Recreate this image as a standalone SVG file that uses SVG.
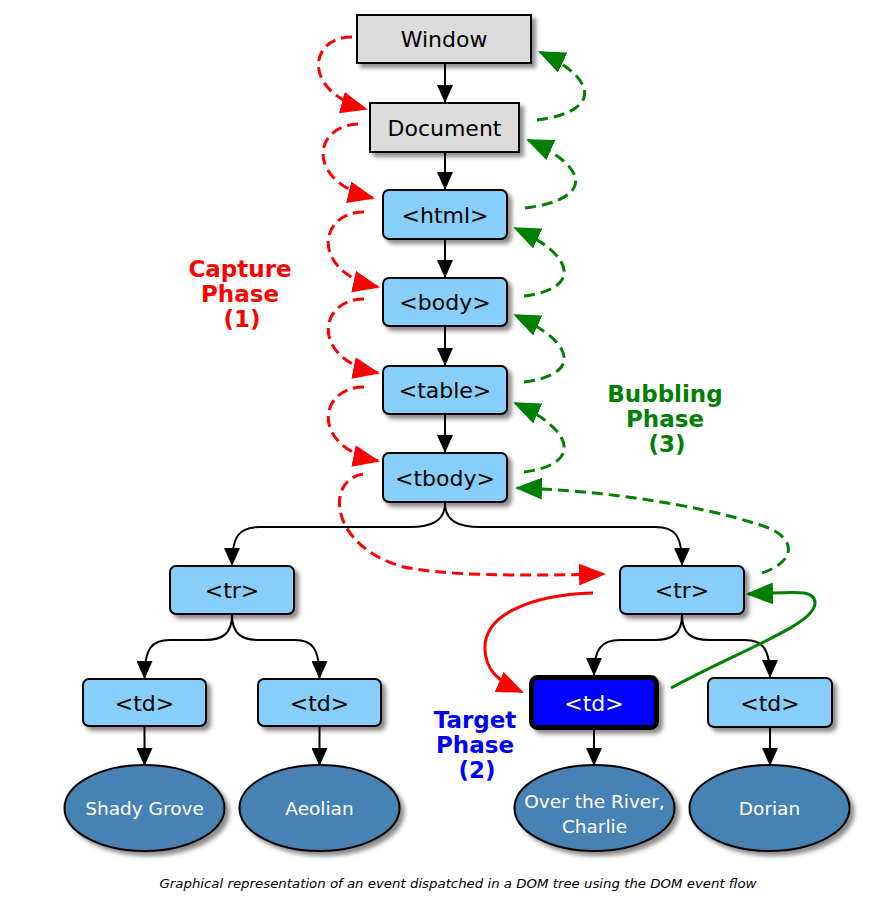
<svg xmlns="http://www.w3.org/2000/svg" width="876" height="912" viewBox="0 0 876 912">
<style>
  .gray{fill:#dcdcdc;stroke:#000;stroke-width:2}
  .node{fill:#87cefa;stroke:#000;stroke-width:2}
  .target{fill:#0000ff;stroke:#000;stroke-width:5}
  .leaf{fill:#4682b4;stroke:#000;stroke-width:2}
  .lbl{font-family:"DejaVu Sans","Liberation Sans",sans-serif;font-size:22px;fill:#000;text-anchor:middle}
  .tl{fill:#fff}
  .leaft{font-family:"DejaVu Sans","Liberation Sans",sans-serif;font-size:18.5px;fill:#fff;text-anchor:middle}
  .phase{font-family:"DejaVu Sans","Liberation Sans",sans-serif;font-size:23px;font-weight:bold;text-anchor:middle}
  .tree{fill:none;stroke:#000;stroke-width:2;marker-end:url(#ab)}
  .cap{fill:none;stroke:#ff0000;stroke-width:3;stroke-dasharray:11,6;marker-end:url(#ar)}
  .bub{fill:none;stroke:#008000;stroke-width:3;stroke-dasharray:11,6;marker-end:url(#ag)}
  .capS{fill:none;stroke:#ff0000;stroke-width:3;marker-end:url(#ar)}
  .bubS{fill:none;stroke:#008000;stroke-width:3;marker-end:url(#ag)}
  .caption{font-family:"DejaVu Sans","Liberation Sans",sans-serif;font-size:12.5px;font-style:italic;fill:#000;text-anchor:middle}
</style>
<defs>
  <filter id="sh" x="-20%" y="-20%" width="150%" height="160%">
    <feDropShadow dx="4" dy="4" stdDeviation="2" flood-color="#000" flood-opacity="0.45"/>
  </filter>
  <marker id="ab" markerUnits="userSpaceOnUse" markerWidth="18" markerHeight="16" refX="17" refY="8" orient="auto">
    <path d="M0,0 L18,8 L0,16 z" fill="#000"/>
  </marker>
  <marker id="ar" markerUnits="userSpaceOnUse" markerWidth="27" markerHeight="22" refX="25" refY="11" orient="auto">
    <path d="M0,0 L27,11 L0,22 z" fill="#ff0000"/>
  </marker>
  <marker id="ag" markerUnits="userSpaceOnUse" markerWidth="27" markerHeight="22" refX="25" refY="11" orient="auto">
    <path d="M0,0 L27,11 L0,22 z" fill="#008000"/>
  </marker>
</defs>

<g id="connectors">
  <path class="tree" d="M445,64 L445,102"/>
  <path class="tree" d="M445,153 L445,189"/>
  <path class="tree" d="M445,240 L445,277"/>
  <path class="tree" d="M445,327 L445,365"/>
  <path class="tree" d="M445,415 L445,452"/>
  <path class="tree" d="M445,503 C445,522 430,527 410,527 L260,527 C240,527 232,535 232,565"/>
  <path class="tree" d="M445,503 C445,522 460,527 480,527 L655,527 C675,527 682,535 682,565"/>
  <path class="tree" d="M232,615 C232,634 222,640 205,640 L170,640 C152,640 144.5,648 144.5,678"/>
  <path class="tree" d="M232,615 C232,634 242,640 259,640 L295,640 C312,640 319.5,648 319.5,678"/>
  <path class="tree" d="M682,615 C682,634 672,640 655,640 L620,640 C602,640 594,648 594,675"/>
  <path class="tree" d="M682,615 C682,634 692,640 709,640 L745,640 C762,640 770,648 770,677"/>
  <path class="tree" d="M144.5,727 L144.5,765"/>
  <path class="tree" d="M319.5,727 L319.5,765"/>
  <path class="tree" d="M594,730 L594,765"/>
  <path class="tree" d="M770,728 L770,765"/>

  <path class="cap" d="M352,37 C308,37 302,92 366,109"/>
  <path class="cap" d="M358,124 C312,126 306,182 373,198"/>
  <path class="cap" d="M364,212 C318,212 310,272 378,287"/>
  <path class="cap" d="M364,299 C318,299 310,359 378,373"/>
  <path class="cap" d="M364,387 C318,387 310,447 378,461"/>
  <path class="cap" d="M363,474 C325,480 330,545 400,566 C440,576 520,576 604,574"/>
  <path class="capS" d="M593,593 C530,595 483,615 485,650 C486,668 495,680 522,692"/>

  <path class="bubS" d="M671,688 C740,650 815,625 815,603 C815,588 790,593 748,594"/>
  <path class="bub" d="M762,573 C800,560 795,535 760,525 C700,505 600,490 517,488"/>
  <path class="bub" d="M524,472 C580,465 578,432 515,403"/>
  <path class="bub" d="M524,382 C580,375 578,344 515,315"/>
  <path class="bub" d="M524,296 C580,289 578,257 515,228"/>
  <path class="bub" d="M525,208 C592,200 592,168 528,140"/>
  <path class="bub" d="M537,120 C600,112 600,80 540,52"/>
</g>

<g id="window"><rect class="gray" x="357" y="15" width="174" height="48" filter="url(#sh)"/><text class="lbl" x="444" y="47">Window</text></g>
<g id="document"><rect class="gray" x="370" y="103" width="149" height="49" filter="url(#sh)"/><text class="lbl" x="444.5" y="135.5">Document</text></g>
<g id="html"><rect class="node" x="383" y="190" width="124" height="49" rx="6" filter="url(#sh)"/><text class="lbl" x="445" y="222.5">&lt;html&gt;</text></g>
<g id="body"><rect class="node" x="383" y="278" width="124" height="48" rx="6" filter="url(#sh)"/><text class="lbl" x="445" y="310">&lt;body&gt;</text></g>
<g id="table"><rect class="node" x="383" y="366" width="124" height="48" rx="6" filter="url(#sh)"/><text class="lbl" x="445" y="398">&lt;table&gt;</text></g>
<g id="tbody"><rect class="node" x="383" y="453" width="124" height="49" rx="6" filter="url(#sh)"/><text class="lbl" x="445" y="485.5">&lt;tbody&gt;</text></g>
<g id="tr-left"><rect class="node" x="170" y="566" width="124" height="48" rx="6" filter="url(#sh)"/><text class="lbl" x="232" y="598">&lt;tr&gt;</text></g>
<g id="tr-right"><rect class="node" x="620" y="566" width="124" height="48" rx="6" filter="url(#sh)"/><text class="lbl" x="682" y="598">&lt;tr&gt;</text></g>
<g id="td-1"><rect class="node" x="83" y="679" width="123" height="47" rx="6" filter="url(#sh)"/><text class="lbl" x="144.5" y="710.5">&lt;td&gt;</text></g>
<g id="td-2"><rect class="node" x="258" y="679" width="123" height="47" rx="6" filter="url(#sh)"/><text class="lbl" x="319.5" y="710.5">&lt;td&gt;</text></g>
<g id="td-target"><rect class="target" x="531.5" y="677.5" width="125" height="50" rx="6" filter="url(#sh)"/><text class="lbl tl" x="594" y="710.5">&lt;td&gt;</text></g>
<g id="td-4"><rect class="node" x="708" y="678" width="124" height="49" rx="6" filter="url(#sh)"/><text class="lbl" x="770" y="710.5">&lt;td&gt;</text></g>
<g id="leaf-shady"><ellipse class="leaf" cx="144.5" cy="808" rx="80" ry="43" filter="url(#sh)"/><text class="leaft" x="144.5" y="815">Shady Grove</text></g>
<g id="leaf-aeolian"><ellipse class="leaf" cx="319.5" cy="808" rx="80" ry="43" filter="url(#sh)"/><text class="leaft" x="319.5" y="815">Aeolian</text></g>
<g id="leaf-river"><ellipse class="leaf" cx="594.5" cy="808" rx="80" ry="43" filter="url(#sh)"/><text class="leaft" x="594.5" y="808">Over the River,</text><text class="leaft" x="594.5" y="833">Charlie</text></g>
<g id="leaf-dorian"><ellipse class="leaf" cx="769.5" cy="808" rx="80" ry="43" filter="url(#sh)"/><text class="leaft" x="769.5" y="815">Dorian</text></g>

<g id="label-capture" class="phase" fill="#ff0000"><text x="240" y="277">Capture</text><text x="240" y="302">Phase</text><text x="242" y="327">(1)</text></g>
<g id="label-bubbling" class="phase" fill="#008000"><text x="665" y="402">Bubbling</text><text x="665" y="427">Phase</text><text x="667" y="452">(3)</text></g>
<g id="label-target" class="phase" fill="#0000ff"><text x="475" y="728">Target</text><text x="475" y="753">Phase</text><text x="477" y="778">(2)</text></g>

<text class="caption" x="458" y="888" textLength="597" lengthAdjust="spacingAndGlyphs">Graphical representation of an event dispatched in a DOM tree using the DOM event flow</text>
</svg>
